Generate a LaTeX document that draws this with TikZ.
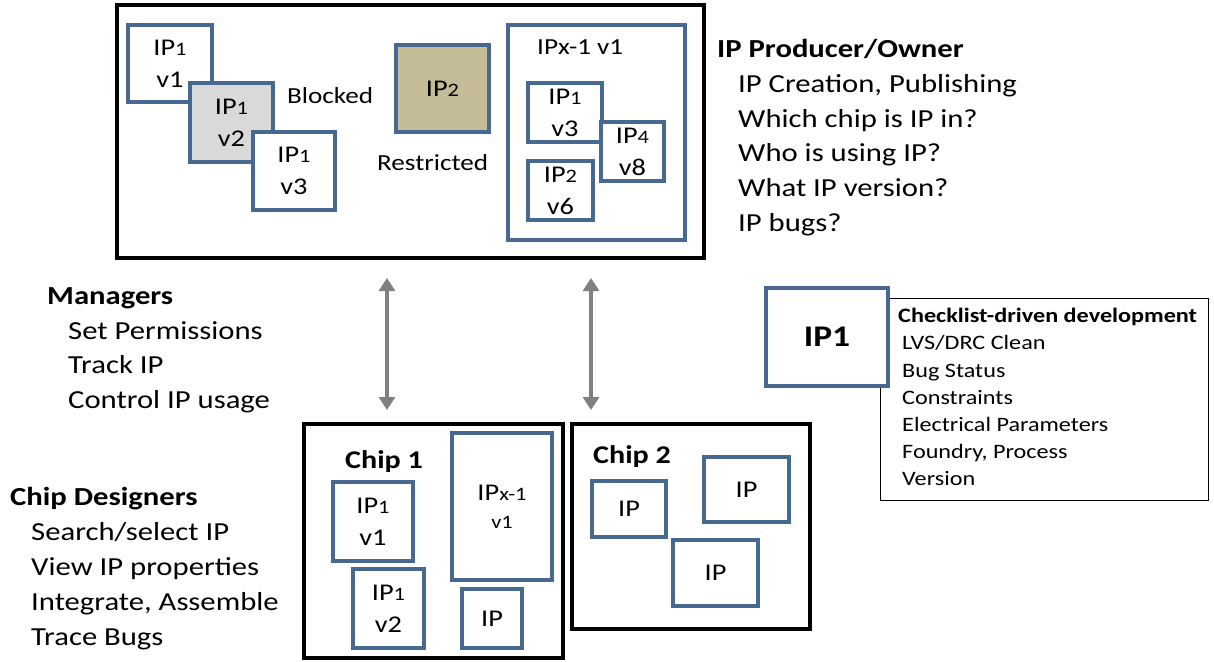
\documentclass[tikz,border=0pt]{standalone}
\usepackage{fontspec}
\setmainfont[FakeStretch=1.18]{Carlito}
\usetikzlibrary{arrows.meta}
\definecolor{ipblue}{RGB}{70,104,145}
\definecolor{blockgray}{RGB}{217,217,217}
\definecolor{restrictan}{RGB}{196,188,150}
\definecolor{arrowgray}{RGB}{128,128,128}
\newcommand\ipsub[1]{{\fontsize{19}{19}\selectfont #1}}
\begin{document}
\begin{tikzpicture}[x=1pt,y=-1pt,
  txt/.style={font=\fontsize{26}{35}\selectfont, inner sep=0pt},
  lbl/.style={font=\fontsize{23}{31}\selectfont, inner sep=0pt},
  small/.style={font=\fontsize{20.5}{27}\selectfont, inner sep=0pt},
  frame/.style={draw=black, line width=3.2pt, fill=white, inner sep=0pt, minimum width=#1},
  ipbox/.style={draw=ipblue, line width=3.2pt, fill=white, inner sep=0pt, align=center,
                font=\fontsize{24}{32}\selectfont},
  biarrow/.style={draw=arrowgray, line width=4.5pt,
                  {Triangle[width=16pt,length=13pt]}-{Triangle[width=16pt,length=13pt]}}
]
\useasboundingbox (0,0) rectangle (1214,661);

% ---------------- IP repository ----------------
\node[frame=587pt, minimum height=253pt] (repo) at (410.5,131.5) {};

\node[ipbox, minimum width=84pt, minimum height=77pt] (a1) at (170,63.5) {IP\ipsub{1}\\v1};
\node[ipbox, fill=blockgray, minimum width=83pt, minimum height=79pt] (a2) at (231.5,122.5) {IP\ipsub{1}\\v2};
\node[ipbox, minimum width=82pt, minimum height=78pt] (a3) at (294,171) {IP\ipsub{1}\\v3};
\node[lbl, anchor=base west] (blocked) at (287,103.4) {Blocked};

\node[ipbox, fill=restrictan, minimum width=93pt, minimum height=87pt] (r) at (442.5,88.5) {IP\ipsub{2}};
\node[lbl, anchor=base west] (restricted) at (377,170.4) {Restricted};

\node[ipbox, minimum width=177pt, minimum height=215pt] (x1) at (596.5,132.5) {};
\node[lbl, anchor=base west] (x1lbl) at (537,54.4) {IPx-1 v1};
\node[ipbox, minimum width=74pt, minimum height=59pt] (b1) at (565,112.5) {IP\ipsub{1}\\v3};
\node[ipbox, minimum width=63pt, minimum height=59pt] (b4) at (632.5,151.5) {IP\ipsub{4}\\v8};
\node[ipbox, minimum width=65pt, minimum height=59pt] (b2) at (560.5,190.5) {IP\ipsub{2}\\v6};

% ---------------- producer / owner ----------------
\node[txt, anchor=base west, font=\fontsize{26}{35}\selectfont\bfseries] (own0) at (717,57.4) {IP Producer/Owner};
\foreach \t [count=\i] in {{IP Creation, Publishing},{Which chip is IP in?},{Who is using IP?},{What IP version?},{IP bugs?}}
  \node[txt, anchor=base west] (own\i) at (738,57.4+34.8*\i) {\t};

% ---------------- managers ----------------
\node[txt, anchor=base west, font=\fontsize{26}{35}\selectfont\bfseries] (mgr0) at (47,304.4) {Managers};
\foreach \t [count=\i] in {{Set Permissions},{Track IP},{Control IP usage}}
  \node[txt, anchor=base west] (mgr\i) at (68,304.4+34.7*\i) {\t};

% ---------------- chip designers ----------------
\node[txt, anchor=base west, font=\fontsize{26}{35}\selectfont\bfseries] (des0) at (10,505.4) {Chip Designers};
\foreach \t [count=\i] in {{Search/select IP},{View IP properties},{Integrate, Assemble},{Trace Bugs}}
  \node[txt, anchor=base west] (des\i) at (31,505.4+35*\i) {\t};

% ---------------- chips ----------------
\node[frame=259pt, minimum height=234pt] (chip1) at (433.5,541) {};
\node[anchor=base west, inner sep=0pt, font=\fontsize{25.5}{31}\selectfont\bfseries] (chip1lbl) at (345,468.2) {Chip 1};
\node[ipbox, minimum width=80pt, minimum height=79pt] (c1a) at (373,521.5) {IP\ipsub{1}\\v1};
\node[ipbox, minimum width=71pt, minimum height=79pt] (c1b) at (388.5,608.5) {IP\ipsub{1}\\v2};
\node[ipbox, minimum width=100pt, minimum height=147pt] (c1x) at (502,506.5)
  {IP\ipsub{x-1}\\[-4pt]{\fontsize{19}{22}\selectfont v1}};
\node[ipbox, minimum width=60pt, minimum height=59pt] (c1c) at (492,618.5) {IP};

\node[frame=238pt, minimum height=205pt] (chip2) at (691,526.5) {};
\node[anchor=base west, inner sep=0pt, font=\fontsize{25.5}{31}\selectfont\bfseries] (chip2lbl) at (593,463.2) {Chip 2};
\node[ipbox, minimum width=74pt, minimum height=56pt] (c2a) at (629,509) {IP};
\node[ipbox, minimum width=85pt, minimum height=65pt] (c2b) at (746.5,489.5) {IP};
\node[ipbox, minimum width=85pt, minimum height=66pt] (c2c) at (715.5,573) {IP};

% ---------------- access arrows ----------------
\coordinate (u1) at (387,278);
\coordinate (d1) at (387,410);
\coordinate (u2) at (591,278);
\coordinate (d2) at (591,410);
\draw[biarrow] (u1) -- (d1);
\draw[biarrow] (u2) -- (d2);

% ---------------- checklist ----------------
\node[draw=black, line width=1pt, minimum width=328pt, minimum height=202pt, inner sep=0pt] (check) at (1044,399) {};
\node[ipbox, minimum width=122pt, minimum height=98pt, font=\fontsize{30}{30}\selectfont\bfseries] (ipone) at (827,337) {IP1};
\node[small, anchor=base west, font=\fontsize{20.5}{27}\selectfont\bfseries] (chk0) at (898,322.6) {Checklist-driven development};
\foreach \t [count=\i] in {{LVS/DRC Clean},{Bug Status},{Constraints},{Electrical Parameters},{Foundry, Process},{Version}}
  \node[small, anchor=base west] (chk\i) at (902,322.6+27.2*\i) {\t};
\end{tikzpicture}
\end{document}
